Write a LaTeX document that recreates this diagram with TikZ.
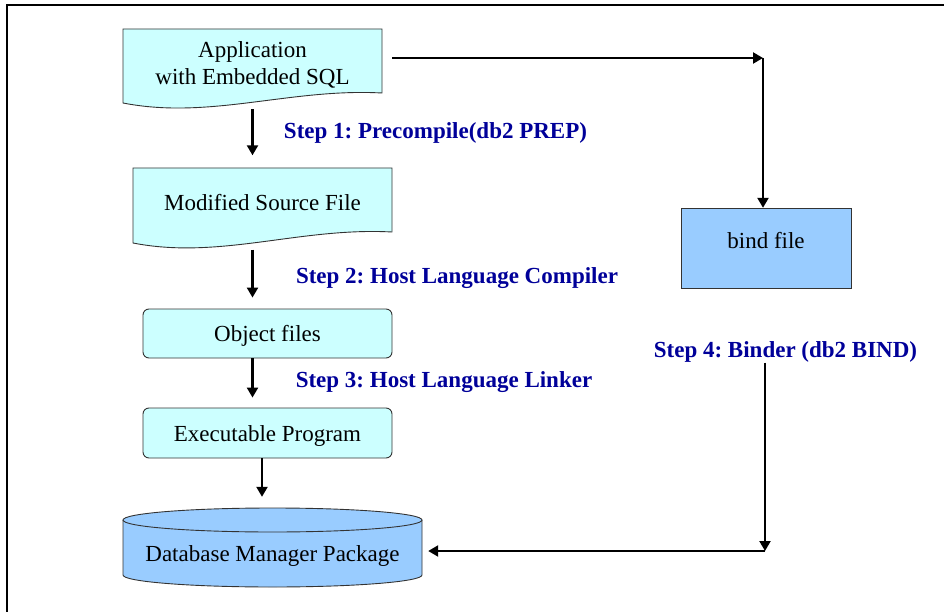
\documentclass[tikz,border=0pt]{standalone}
\usepackage{fontspec}
\setmainfont{Liberation Serif}
\frenchspacing
\usetikzlibrary{arrows.meta}
\definecolor{lightcyan}{HTML}{CCFFFF}
\definecolor{skyfill}{HTML}{99CCFF}
\definecolor{steptext}{HTML}{000099}
\begin{document}
\begin{tikzpicture}[x=1pt,y=-1pt,
  shapeline/.style={draw=black!80,line width=0.9pt},
  boxtext/.style={font=\fontsize{23}{27}\selectfont\frenchspacing,align=center,inner sep=0pt},
  holder/.style={draw=none,inner sep=0pt,font=\fontsize{23}{27}\selectfont\frenchspacing,align=center},
  steplabel/.style={font=\fontsize{23}{27}\selectfont\bfseries\frenchspacing,text=steptext,inner sep=0pt},
  arr/.style={line width=2.2pt,-{Triangle[length=10pt,width=11pt]}}]
\useasboundingbox (0,0) rectangle (944,612);
% border (only top and left edges visible)
\draw[line width=2pt] (7,612) -- (7,5) -- (944,5);

% Application document
\draw[shapeline,fill=lightcyan] (123,29) -- (382,29) -- (382,93)
  .. controls (290,88) and (210,120) .. (123,103) -- cycle;
\node[holder,minimum width=259pt,minimum height=69pt] (app) at (252.5,64.5)
  {Application\\with Embedded SQL};

% Modified source file document
\draw[shapeline,fill=lightcyan] (133,168) -- (392,168) -- (392,232)
  .. controls (300,227) and (220,260) .. (133,243) -- cycle;
\node[holder,minimum width=259pt,minimum height=75pt] (msf) at (262.5,203)
  {Modified Source File};

% Object files
\node[shapeline,fill=lightcyan,rounded corners=6pt,minimum width=249pt,minimum height=49pt,
  inner sep=0pt] (obj) at (267.5,333.5) {};
\node[boxtext] (objtext) at (267.5,335.5) {Object files};

% Executable program
\node[shapeline,fill=lightcyan,rounded corners=6pt,minimum width=249pt,minimum height=50pt,
  inner sep=0pt] (exe) at (267.5,433) {};
\node[boxtext] (exetext) at (267.5,436) {Executable Program};

% Database cylinder
\fill[skyfill] (123,520) -- (123,575) arc (180:0:149.5 and 12) -- (422,520)
  arc (0:-180:149.5 and 12) -- cycle;
\draw[shapeline] (123,520) -- (123,575) arc (180:0:149.5 and 12) -- (422,520);
\draw[shapeline] (272.5,520) ellipse [x radius=149.5, y radius=12];
\node[holder,minimum width=299pt,minimum height=80pt] (cyl) at (272.5,547) {};
\node[boxtext] (cyltext) at (272.5,556) {Database Manager Package};

% bind file
\draw[shapeline,fill=skyfill] (681,208) rectangle (851,288);
\node[holder,minimum width=170pt,minimum height=80pt] (bind) at (766,248) {};
\node[boxtext] (bindtext) at (766,241) {bind file};

% step labels
\node[steplabel] (s1) at (435.5,133) {Step 1: Precompile(db2 PREP)};
\node[steplabel] (s2) at (457,278) {Step 2: Host Language Compiler};
\node[steplabel] (s3) at (444,382) {Step 3: Host Language Linker};
\node[steplabel] (s4) at (785.5,352) {Step 4: Binder (db2 BIND)};

% helper coordinates
\coordinate (c1) at (763,58);
\coordinate (c2) at (765,551);

% connectors
\draw[arr,shorten <=10pt] (app.east |- c1) -- (c1);
\draw[arr] (c1) -- (c1 |- bind.north);
\draw[arr,shorten <=10pt,shorten >=10pt] (app.south) -- (app.south |- msf.north);
\draw[arr,shorten <=9pt,shorten >=11pt] (msf.south -| app.south) -- (app.south |- obj.north);
\draw[arr,shorten >=10pt] (obj.south -| app.south) -- (app.south |- exe.north);
\draw[arr,shorten >=10pt] ([xshift=-5.5pt]exe.south) -- ([xshift=-5.5pt]exe.south |- cyl.north);
\draw[arr] (s4.south -| c2) -- (c2);
\draw[arr,shorten >=6pt] (c2) -- (cyl.east |- c2);
\end{tikzpicture}
\end{document}
